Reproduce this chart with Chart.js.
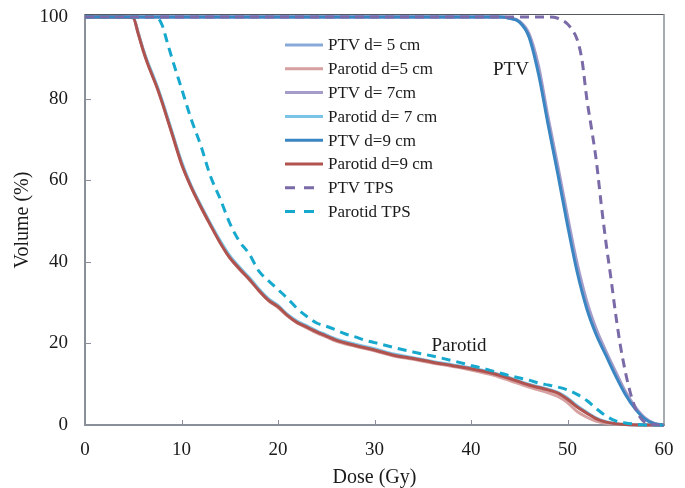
<!DOCTYPE html>
<html>
<head>
<meta charset="utf-8">
<script src="https://cdn.jsdelivr.net/npm/chart.js@4.4.1/dist/chart.umd.min.js"></script>
<style>
  html,body{margin:0;padding:0;background:#fff}
  #wrap{position:relative;width:685px;height:488px}
</style>
</head>
<body>
<div id="wrap"><canvas id="dvh" width="685" height="488"></canvas></div>
<script>
// ── DVH data: dose (Gy) vs. volume (%) ──
var X_TICKS=[0,10,20,30,40,50,60];
var Y_TICKS=[0,20,40,60,80,100];

var PTV_DOSE=[0,40,43,44,45,46,47,48,49,50,51,52,53,54,55,56,57,58,59,60];
var PTV_5CM=[100,100,100,99.7,98.9,95.5,87,74.2,62.3,50,38.5,29.4,22.6,17.4,12.4,7.8,4.2,1.6,0.3,0];
var PTV_7CM=[100,100,100,99.8,99,96,88,75.3,63.5,51.2,39.6,30.3,23.4,18,13,8.2,4.5,1.8,0.4,0];
var PTV_9CM=[100,100,100,99.7,98.8,95.2,86,73.5,61.5,49,37.5,28.5,22,17,12,7.5,4,1.5,0.3,0];

var PTV_TPS_DOSE=[0,48,49,50,50.5,51,51.5,52,52.5,53,53.5,54,54.5,55,55.5,56,56.5,57,57.5,58,59,60];
var PTV_TPS=[100,100,99.7,98.3,96.8,94.5,89.5,80,72.5,64.5,54,44.5,36,27,19.2,13,8,4.3,2,0.7,0.1,0];

var PAR_DOSE=[0,4,5,5.5,6,6.5,7,7.5,8,9,10,11,12,13,14,15,16,17,18,19,20,21,22,23,24,25,26,28,30,32,34,36,38,40,42,44,46,47,48,49,50,51,52,53,54,55,56,58,60];
var PAR_5CM=[100,100,99.8,96.3,92.2,88.8,85.7,82.6,79.2,71.8,64.3,58.4,53.4,49.1,44.8,41.2,38.2,35.7,33.1,30.5,28.8,26.7,25,23.8,22.6,21.6,20.6,19.3,18.2,16.9,16.1,15.2,14.4,13.5,12.4,10.9,9.3,8.6,7.9,7,5.5,3.3,1.9,0.9,0.4,0.2,0.1,0,0];
var PAR_7CM=[100,100,99.8,96.2,92.3,88.9,86,82.9,79.5,72,64.6,58.7,53.9,49.4,45.2,41.5,38.7,36.2,33.4,31,29.3,27.1,25.4,24.3,23.1,22.1,21.1,19.8,18.7,17.4,16.5,15.6,14.8,14,13,11.6,10,9.4,8.8,8,6.6,4.7,3.1,1.7,0.8,0.3,0.1,0,0];
var PAR_9CM=[100,100,99.8,96,92,88.5,85.5,82.5,79,71.5,64,58.3,53.5,49,44.7,41,38.3,35.8,33,30.6,29,26.8,25.1,24,22.8,21.8,20.8,19.5,18.4,17.1,16.3,15.4,14.6,13.8,12.8,11.4,9.8,9.2,8.6,7.8,6.3,4.4,2.9,1.5,0.7,0.3,0.1,0,0];

var PAR_TPS_DOSE=[0,7,7.5,8,8.5,9,10,11,12,13,14,15,16,17,18,19,20,21,22,23,24,25,26,27,28,29,30,32,34,36,38,40,42,44,46,47,48,49,50,51,52,53,54,55,56,57,58,60];
var PAR_TPS=[100,100,99.8,98,94,90,82.5,75,68.5,61,55.5,49.5,45,42,37.8,35.4,33.2,31,28.5,26.6,25,24.2,23.3,22.3,21.6,20.8,20.2,19,17.9,16.9,15.8,14.6,13.4,12.1,11,10.3,9.8,9.3,8.6,7.5,6,4,2.2,1,0.5,0.2,0,0];

var SERIES_LABELS=['PTV d= 5 cm','Parotid d=5 cm','PTV d= 7cm','Parotid d= 7 cm','PTV d=9 cm','Parotid d=9 cm','PTV TPS','Parotid TPS'];

var FONT_FAMILY='"Liberation Serif","Times New Roman",serif';
var AXIS_GREY='#8a8f99';
var TEXT_COL='#1a1a1a';

function pts(xs,ys){
  return xs.map(function(x,i){return {x:x,y:ys[i]}});
}

function line(label,xs,ys,color,order,dashed){
  return {
    label:label,data:pts(xs,ys),borderColor:color,backgroundColor:color,
    borderWidth:3,pointRadius:0,fill:false,cubicInterpolationMode:'monotone',
    borderDash:dashed?[9,6]:[],borderCapStyle:'butt',order:order,clip:4
  };
}

var datasets=[
  line(SERIES_LABELS[0],PTV_DOSE,PTV_5CM,'#88aad8',3,false),
  line(SERIES_LABELS[1],PAR_DOSE,PAR_5CM,'#d6a1a0',3,false),
  line(SERIES_LABELS[2],PTV_DOSE,PTV_7CM,'#a69cca',2,false),
  line(SERIES_LABELS[3],PAR_DOSE,PAR_7CM,'#7cc4e7',2,false),
  line(SERIES_LABELS[4],PTV_DOSE,PTV_9CM,'#3a86c2',1,false),
  line(SERIES_LABELS[5],PAR_DOSE,PAR_9CM,'#b0534f',1,false),
  line(SERIES_LABELS[6],PTV_TPS_DOSE,PTV_TPS,'#7a6aa8',0,true),
  line(SERIES_LABELS[7],PAR_TPS_DOSE,PAR_TPS,'#17a9cd',0,true)
];

// frame, inward tick marks, curve labels and the in-plot legend
var decorPlugin={
  id:'decor',
  afterDraw:function(chart){
    var ctx=chart.ctx, a=chart.chartArea, xs=chart.scales.x, ys=chart.scales.y;
    ctx.save();
    // top and right frame
    ctx.strokeStyle='#555a62';ctx.lineWidth=1.2;
    ctx.beginPath();ctx.moveTo(a.left,a.top-0.5);ctx.lineTo(a.right,a.top-0.5);ctx.stroke();
    ctx.strokeStyle=AXIS_GREY;ctx.lineWidth=1.5;
    ctx.beginPath();ctx.moveTo(a.right,a.top-1);ctx.lineTo(a.right,a.bottom);ctx.stroke();
    // tick marks pointing into the plot
    ctx.strokeStyle=AXIS_GREY;ctx.lineWidth=1;
    X_TICKS.slice(1,-1).forEach(function(v){
      var px=Math.round(xs.getPixelForValue(v))+0.5;
      ctx.beginPath();ctx.moveTo(px,a.bottom);ctx.lineTo(px,a.bottom-5);ctx.stroke();
    });
    Y_TICKS.slice(1,-1).forEach(function(v){
      var py=Math.round(ys.getPixelForValue(v))+0.5;
      ctx.beginPath();ctx.moveTo(a.left,py);ctx.lineTo(a.left+6,py);ctx.stroke();
    });
    // curve labels
    ctx.fillStyle=TEXT_COL;ctx.textAlign='center';ctx.textBaseline='middle';
    ctx.font='19px '+FONT_FAMILY;
    ctx.fillText('PTV',511,70);
    ctx.fillText('Parotid',459,346);
    // legend
    ctx.font='17px '+FONT_FAMILY;ctx.textAlign='left';
    chart.data.datasets.forEach(function(ds,i){
      var y=45+i*23.8;
      ctx.strokeStyle=ds.borderColor;ctx.lineWidth=3;ctx.lineCap='butt';
      ctx.setLineDash(ds.borderDash&&ds.borderDash.length?[10,9]:[]);
      ctx.beginPath();ctx.moveTo(285,y);ctx.lineTo(323,y);ctx.stroke();
      ctx.setLineDash([]);
      ctx.fillStyle=TEXT_COL;
      ctx.fillText(ds.label,328,y+1);
    });
    ctx.restore();
  }
};

new Chart(document.getElementById('dvh'),{
  type:'line',
  data:{datasets:datasets},
  options:{
    responsive:false,animation:false,
    layout:{padding:{top:15,right:21,left:0,bottom:0}},
    plugins:{legend:{display:false},tooltip:{enabled:false}},
    scales:{
      x:{
        type:'linear',min:0,max:60,
        // fixed box; the edge labels may overhang the padding
        afterFit:function(s){s.height=63;s.paddingLeft=0;s.paddingRight=0},
        afterBuildTicks:function(s){s.ticks=X_TICKS.map(function(v){return {value:v}})},
        border:{color:AXIS_GREY,width:2},
        grid:{drawOnChartArea:false,drawTicks:false},
        ticks:{color:TEXT_COL,padding:14,maxRotation:0,font:{family:FONT_FAMILY,size:19}},
        title:{display:true,text:'Dose (Gy)',color:TEXT_COL,padding:{top:0,bottom:0},font:{family:FONT_FAMILY,size:20,lineHeight:1}}
      },
      y:{
        type:'linear',min:0,max:100.5,
        afterFit:function(s){s.width=85;s.paddingTop=0;s.paddingBottom=0},
        afterBuildTicks:function(s){s.ticks=Y_TICKS.map(function(v){return {value:v}})},
        border:{color:AXIS_GREY,width:2},
        grid:{drawOnChartArea:false,drawTicks:false},
        ticks:{color:TEXT_COL,padding:17,font:{family:FONT_FAMILY,size:19}},
        title:{display:true,text:'Volume (%)',color:TEXT_COL,padding:{top:11,bottom:0},font:{family:FONT_FAMILY,size:20,lineHeight:1.2}}
      }
    }
  },
  plugins:[decorPlugin]
});
</script>
</body>
</html>
